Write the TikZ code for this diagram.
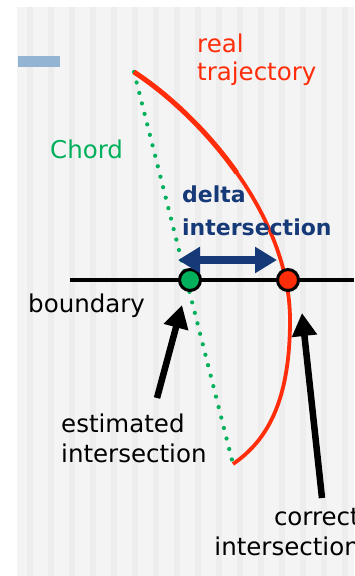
\documentclass[tikz,border=0pt]{standalone}
\usepackage{fontspec}
\setmainfont{DejaVu Sans}
\usetikzlibrary{arrows.meta}
\definecolor{trajred}{RGB}{255,45,10}
\definecolor{chordgreen}{RGB}{0,176,90}
\definecolor{deltanavy}{RGB}{22,58,120}
\definecolor{bgrey}{RGB}{244,244,244}
\definecolor{sgrey}{RGB}{237,237,237}
\definecolor{barblue}{RGB}{148,180,212}

\begin{document}
\begin{tikzpicture}[x=1pt, y=-1pt,
  lbl/.style={inner sep=0pt, font=\fontsize{24.5}{30}\selectfont},
  dotmark/.style={circle, draw=black, line width=3pt, minimum size=21pt, inner sep=0pt},
  pointer/.style={line width=6.5pt, -{Triangle[length=23pt, width=24pt]}}]
\useasboundingbox (0,0) rectangle (354,576);
\clip (0,0) rectangle (354,576);
\fill[bgrey] (17,7) rectangle (354,576);
\foreach \x in {27,48,...,350}
  \fill[sgrey] (\x,7) rectangle (\x+6,576);
\fill[barblue] (18,56) rectangle (60,67);
\coordinate (top) at (134,72);
\coordinate (bot) at (233,464);
\coordinate (mid) at (236.75,172.75);
\draw[chordgreen, line width=4.2pt, line cap=round, dash pattern=on 0pt off 10.8pt] (top) -- (bot);
\draw[trajred, line width=3.8pt] (top) .. controls (200,115) and (290,215) .. (290,320)
  .. controls (290,400) and (268,440) .. (bot);
\draw[trajred, line width=5pt] (top) .. controls (167,93.5) and (206,129.25) .. (mid);
\coordinate (bl) at (70,280);
\coordinate (br) at (354,280);
\draw[line width=3.3pt] (bl) -- (br);
\node[dotmark, fill=chordgreen] (est) at (190,280) {};
\node[dotmark, fill=trajred] (cor) at (288,280) {};
\coordinate (dl) at (178,260);
\coordinate (dr) at (277,260);
\draw[deltanavy, line width=8pt, {Triangle[length=22pt, width=25pt]}-{Triangle[length=22pt, width=25pt]}] (dl) -- (dr);
\coordinate (etail) at (157,398);
\coordinate (etip) at (182,305);
\coordinate (ctail) at (322,498);
\coordinate (ctip) at (302,313);
\draw[pointer] (etail) -- (etip);
\draw[pointer] (ctail) -- (ctip);
\node[lbl, trajred, anchor=base west, align=left, font=\fontsize{24.5}{28}\selectfont] (real) at (197,80) {real\\trajectory};
\node[lbl, chordgreen, anchor=base west] (chord) at (50,158) {Chord};
\node[lbl, anchor=base west] (bnd) at (28,312) {boundary};
\node[lbl, deltanavy, anchor=base west, align=left, font=\fontsize{22}{33}\selectfont\bfseries] (delta) at (182,235) {delta\\intersection};
\node[lbl, anchor=base west, align=left] (estlbl) at (61,462) {estimated\\intersection};
\node[lbl, anchor=base east, align=right] (corlbl) at (360,555) {correct\\intersection};
\end{tikzpicture}
\end{document}
